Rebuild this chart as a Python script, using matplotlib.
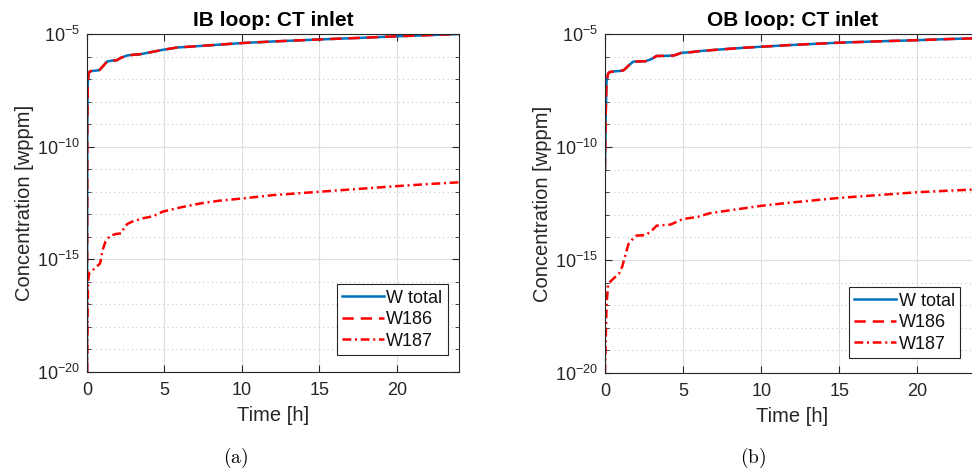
"""
Tungsten isotope concentration at CT inlet, IB and OB loops
"""
import matplotlib
matplotlib.use('Agg')
import matplotlib.pyplot as plt
from matplotlib.ticker import LogLocator, FixedLocator, NullFormatter
import numpy as np

# ============================================================================
# DATA (log10 of concentration in wppm)
# ============================================================================
IB_T_TOTAL = [0, 0.02, 0.05, 0.1, 0.2, 0.5, 0.8, 1.0, 1.3, 1.6, 1.9, 2.2, 2.6,
              3.0, 3.4, 3.8, 4.3, 4.9, 5.8, 7.5, 10, 12, 15, 18, 20, 22, 24]
IB_W_TOTAL = [-20, -9.0, -7.2, -6.75, -6.65, -6.63, -6.6, -6.45, -6.22, -6.18,
              -6.17, -6.05, -5.95, -5.92, -5.9, -5.85, -5.78, -5.7, -5.6,
              -5.52, -5.4, -5.33, -5.24, -5.16, -5.1, -5.05, -5.0]
IB_W186 = [-20, -9.0, -7.2, -6.75, -6.65, -6.63, -6.6, -6.45, -6.22, -6.18,
           -6.17, -6.05, -5.95, -5.92, -5.9, -5.85, -5.78, -5.7, -5.6,
           -5.52, -5.4, -5.33, -5.24, -5.16, -5.1, -5.05, -5.0]

IB_T_187 = [0, 0.04, 0.08, 0.15, 0.5, 0.85, 1.0, 1.2, 1.5, 1.9, 2.2, 2.4, 2.6,
            3.0, 3.6, 4.3, 4.9, 6, 7.3, 8.5, 10, 12, 15, 18, 20, 22, 24]
IB_W187 = [-20, -17, -15.9, -15.6, -15.4, -15.18, -14.6, -14.2, -13.95,
           -13.87, -13.85, -13.6, -13.43, -13.3, -13.18, -13.08, -12.88,
           -12.7, -12.52, -12.4, -12.3, -12.15, -12.0, -11.85, -11.75,
           -11.66, -11.58]

OB_T_TOTAL = [0, 0.05, 0.1, 0.2, 0.3, 0.6, 1.0, 1.2, 1.5, 1.8, 2.2, 2.6, 3.0,
              3.3, 4.0, 4.4, 4.9, 5.5, 6.1, 7.4, 9, 10, 12, 15, 18, 20, 22, 24]
OB_W_TOTAL = [-11.0, -8.5, -7.1, -6.75, -6.68, -6.65, -6.63, -6.6, -6.4,
              -6.22, -6.21, -6.2, -6.1, -5.97, -5.96, -5.95, -5.83, -5.8,
              -5.75, -5.68, -5.6, -5.56, -5.48, -5.38, -5.31, -5.27, -5.22,
              -5.18]
OB_W186 = [-11.0, -8.5, -7.1, -6.75, -6.68, -6.65, -6.63, -6.6, -6.4,
           -6.22, -6.21, -6.2, -6.1, -5.97, -5.96, -5.95, -5.83, -5.8,
           -5.75, -5.68, -5.6, -5.56, -5.48, -5.38, -5.31, -5.27, -5.22,
           -5.18]

OB_T_187 = [0, 0.1, 0.2, 0.5, 0.9, 1.1, 1.3, 1.5, 1.8, 2.0, 2.6, 3.0, 3.3,
            4.2, 5.0, 5.9, 6.7, 8, 10, 12, 15, 18, 20, 22, 24]
OB_W187 = [-20, -17, -16.05, -15.85, -15.6, -15.3, -14.8, -14.3, -14.05,
           -13.92, -13.9, -13.7, -13.48, -13.43, -13.18, -13.1, -12.93,
           -12.8, -12.6, -12.45, -12.25, -12.1, -12.0, -11.93, -11.87]

TITLES = ['IB loop: CT inlet', 'OB loop: CT inlet']
CAPTIONS = ['(a)', '(b)']
LEGEND_LABELS = ['W total', 'W186', 'W187']

BLUE = '#0072BD'
RED = '#FF0000'
AX_COLOR = '#262626'

plt.rcParams['font.family'] = ['Liberation Sans', 'DejaVu Sans']
plt.rcParams['mathtext.fontset'] = 'custom'
plt.rcParams['mathtext.rm'] = 'Liberation Sans'
plt.rcParams['mathtext.it'] = 'Liberation Sans'
plt.rcParams['mathtext.bf'] = 'Liberation Sans:bold'


def draw_panel(ax, t_tot, w_tot, w186, t_187, w187, title, leg_anchor):
    ax.plot(t_tot, 10.0 ** np.array(w_tot), color=BLUE, lw=1.8, label=LEGEND_LABELS[0])
    ax.plot(t_tot, 10.0 ** np.array(w186), color=RED, lw=1.8, ls=(0, (4.5, 2.8)),
            label=LEGEND_LABELS[1])
    ax.plot(t_187, 10.0 ** np.array(w187), color=RED, lw=1.8, ls=(0, (3.5, 1.5, 0.8, 1.5)),
            label=LEGEND_LABELS[2])

    ax.set_yscale('log')
    ax.set_xlim(0, 24)
    ax.set_ylim(1e-20, 1e-5)
    ax.yaxis.set_major_locator(FixedLocator([1e-20, 1e-15, 1e-10, 1e-5]))
    ax.yaxis.set_minor_locator(LogLocator(base=10, subs=(1.0,), numticks=40))
    ax.yaxis.set_minor_formatter(NullFormatter())
    ax.set_xticks([0, 5, 10, 15, 20])

    ax.grid(True, which='major', color='#dedede', lw=0.8, ls='-')
    ax.grid(True, which='minor', axis='y', color='#c8c8c8', lw=0.8, ls=(0, (1, 3)))
    ax.set_axisbelow(True)

    ax.tick_params(which='both', direction='in', top=True, right=True,
                   colors=AX_COLOR, labelsize=13, labelcolor=AX_COLOR)
    ax.tick_params(axis='x', which='major', length=5, pad=7)
    ax.tick_params(axis='y', which='major', length=5, pad=5)
    ax.tick_params(which='minor', length=3)
    for s in ax.spines.values():
        s.set_color(AX_COLOR)
        s.set_linewidth(0.8)

    ax.set_title(title, fontsize=15, fontweight='bold', color='black', pad=6)
    ax.set_xlabel('Time [h]', fontsize=14.5, color=AX_COLOR, labelpad=5)
    ax.set_ylabel('Concentration [wppm]', fontsize=14.5, color=AX_COLOR, labelpad=2)

    leg = ax.legend(loc='lower right', bbox_to_anchor=leg_anchor, fontsize=13,
                    handlelength=2.3, handletextpad=0.15, borderpad=0.3,
                    labelspacing=0.25, fancybox=False, framealpha=1,
                    edgecolor=AX_COLOR, borderaxespad=0.0)
    leg.get_frame().set_linewidth(0.8)
    for txt in leg.get_texts():
        txt.set_color('#111111')


fig = plt.figure(figsize=(9.72, 4.74), dpi=100)
ax1 = fig.add_axes([0.0895, 0.2152, 0.3827, 0.713])
ax2 = fig.add_axes([0.6224, 0.2131, 0.3858, 0.715])

draw_panel(ax1, IB_T_TOTAL, IB_W_TOTAL, IB_W186, IB_T_187, IB_W187, TITLES[0],
           (0.970, 0.050))
draw_panel(ax2, OB_T_TOTAL, OB_W_TOTAL, OB_W186, OB_T_187, OB_W187, TITLES[1],
           (0.947, 0.044))

fig.text(236 / 972, 1 - 458 / 474, r'$\mathrm{' + CAPTIONS[0] + '}$', ha='center',
         va='center', fontsize=14, math_fontfamily='cm')
fig.text(753 / 972, 1 - 458 / 474, r'$\mathrm{' + CAPTIONS[1] + '}$', ha='center',
         va='center', fontsize=14, math_fontfamily='cm')

fig.savefig('out.png', dpi=100)
